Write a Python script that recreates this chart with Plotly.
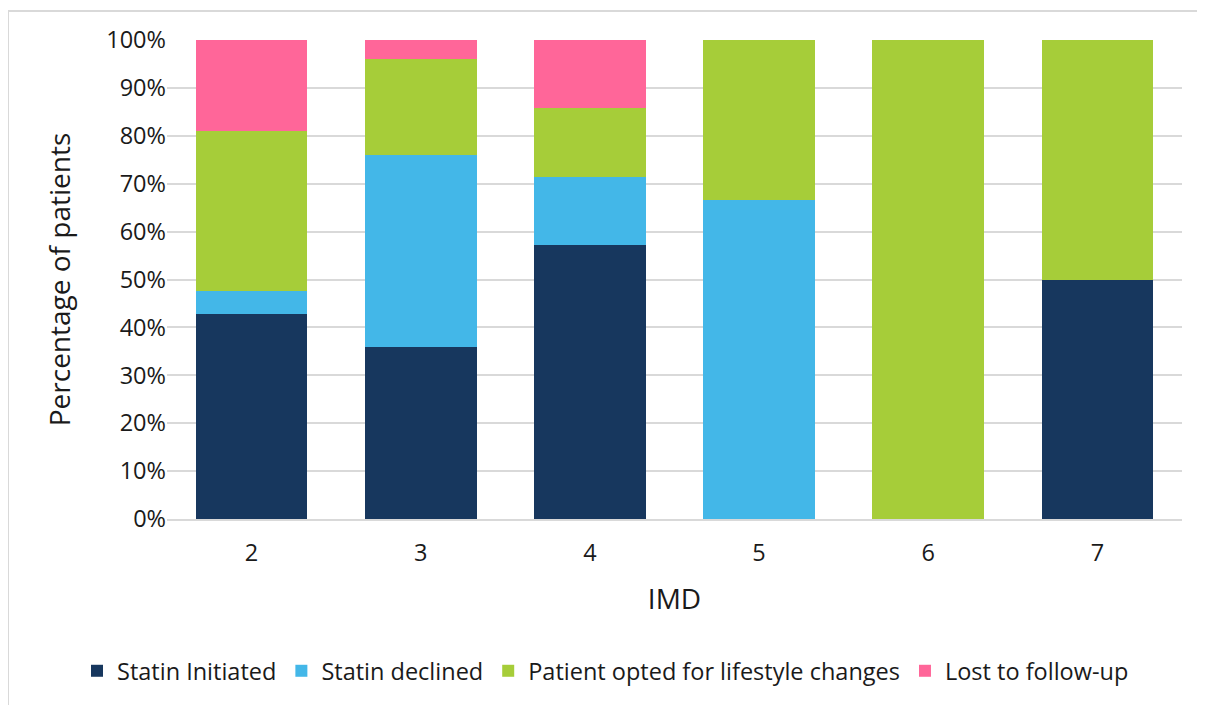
import plotly.graph_objects as go

imd = ["2", "3", "4", "5", "6", "7"]
statin_initiated = [42.86, 36.0, 57.14, 0.0, 0.0, 50.0]
statin_declined = [4.76, 40.0, 14.29, 66.67, 0.0, 0.0]
lifestyle = [33.33, 20.0, 14.29, 33.33, 100.0, 50.0]
lost_follow_up = [19.05, 4.0, 14.29, 0.0, 0.0, 0.0]

series = [
    ("Statin Initiated", statin_initiated, "#17375E"),
    ("Statin declined", statin_declined, "#43B7E8"),
    ("Patient opted for lifestyle changes", lifestyle, "#A6CD39"),
    ("Lost to follow-up", lost_follow_up, "#FF6699"),
]

fig = go.Figure()
for name, vals, col in series:
    fig.add_trace(go.Bar(x=imd, y=vals, name=name, marker=dict(color=col, line=dict(width=0))))

OX, OY = 8, 8  # page offset of the figure
W, H = 1205, 705
L = 167 - OX
T = 40 - OY
R = W - (1182 - OX)
B = H - (519 - OY)
pw, ph = W - L - R, H - T - B

def px_x(p):
    return (p - OX - L) / pw

def px_y(p):
    return (H - B - (p - OY)) / ph

FS = 23.5
fig.update_layout(
    barmode="stack",
    bargap=0.34,
    width=W, height=H,
    margin=dict(l=L, r=R, t=T, b=B),
    paper_bgcolor="white",
    plot_bgcolor="white",
    font=dict(family="Open Sans", size=FS, color="#1a1a1a"),
    showlegend=True,
    legend=dict(orientation="h", x=px_x(77), xanchor="left", y=px_y(671), yanchor="middle",
                font=dict(size=FS), traceorder="normal", itemwidth=30),
    xaxis=dict(title=dict(text="IMD", standoff=22), showgrid=False, showline=True,
               linecolor="#d9d9d9", linewidth=2, ticks="", tickfont=dict(size=FS),
               ticklabelstandoff=12),
    yaxis=dict(title=dict(text="Percentage of patients", standoff=27), range=[0, 100], dtick=10,
               ticksuffix="%", showgrid=True, gridcolor="#d9d9d9", gridwidth=1.5,
               zeroline=False, showline=False, tickfont=dict(size=FS)),
    shapes=[dict(type="rect", xref="paper", yref="paper",
                 x0=px_x(8), x1=px_x(1230), y0=px_y(730), y1=px_y(11),
                 line=dict(color="#d9d9d9", width=2), fillcolor="rgba(0,0,0,0)", layer="below")],
)

fig.write_html("out.html")
